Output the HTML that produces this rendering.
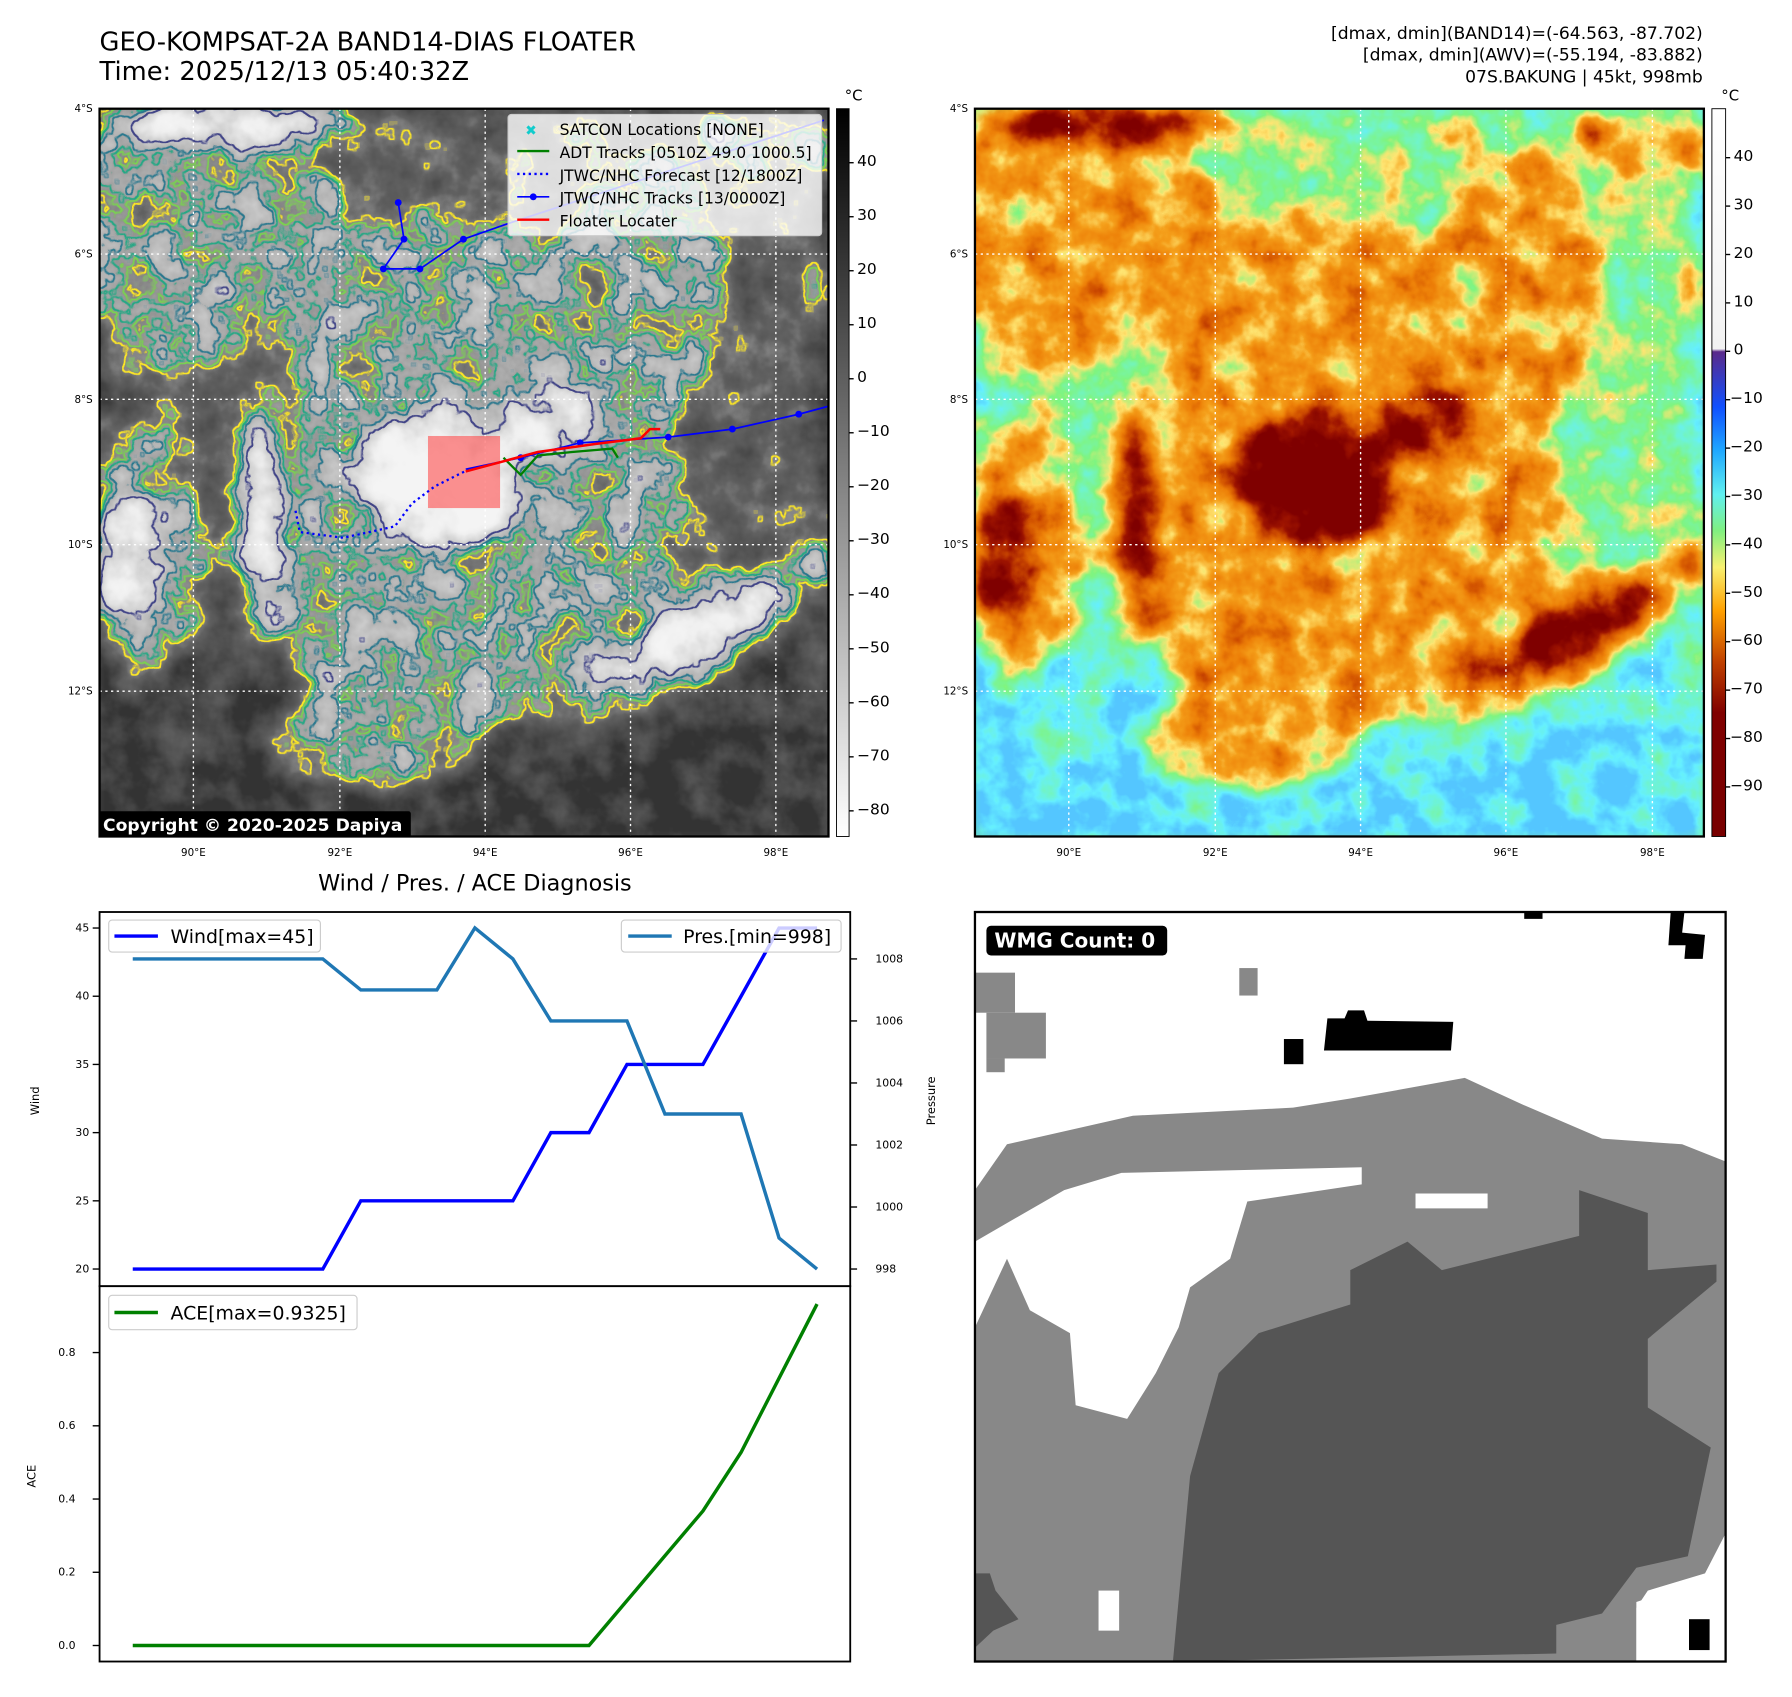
<!DOCTYPE html>
<html><head><meta charset="utf-8"><style>
html,body{margin:0;padding:0;background:#fff;}
svg{display:block;font-family:"DejaVu Sans","Liberation Sans",sans-serif;}
</style></head><body>
<svg id="fig" width="1792" height="1697" viewBox="0 0 1566 1483" xmlns="http://www.w3.org/2000/svg">
<defs>
<linearGradient id="bgSrc" x1="0" y1="0" x2="0" y2="1">
<stop offset="0" stop-color="rgb(80,80,80)"/><stop offset="0.6" stop-color="rgb(72,72,72)"/><stop offset="0.8" stop-color="rgb(30,30,30)"/><stop offset="1" stop-color="rgb(10,10,10)"/></linearGradient>
<g id="src">
<rect x="87" y="95" width="637" height="636" fill="url(#bgSrc)"/>
<g fill="rgb(132,132,132)">
<ellipse cx="400" cy="450" rx="200" ry="190"/>
<ellipse cx="170" cy="200" rx="135" ry="115"/>
<ellipse cx="350" cy="250" rx="210" ry="60"/>
<ellipse cx="560" cy="250" rx="75" ry="120"/>
<ellipse cx="590" cy="560" rx="125" ry="45" transform="rotate(-28 590 560)"/>
<ellipse cx="130" cy="480" rx="50" ry="110"/>
<ellipse cx="330" cy="640" rx="90" ry="50"/>
<ellipse cx="690" cy="130" rx="40" ry="30"/>
</g>
<g fill="rgb(215,215,215)">
<ellipse cx="385" cy="420" rx="75" ry="58"/>
<ellipse cx="110" cy="490" rx="30" ry="55"/>
<ellipse cx="230" cy="460" rx="16" ry="90"/>
<ellipse cx="605" cy="555" rx="85" ry="24" transform="rotate(-25 605 555)"/>
<ellipse cx="200" cy="105" rx="110" ry="18"/>
<ellipse cx="480" cy="370" rx="40" ry="30"/>
<ellipse cx="625" cy="118" rx="16" ry="16"/>
<ellipse cx="712" cy="490" rx="13" ry="16"/>
</g>
<ellipse cx="385" cy="418" rx="60" ry="50" fill="rgb(255,255,255)"/>
</g>
<filter id="fGray" filterUnits="userSpaceOnUse" x="87" y="95" width="637" height="636" color-interpolation-filters="sRGB">
<feGaussianBlur in="SourceGraphic" stdDeviation="9" result="b"/>
<feTurbulence type="fractalNoise" baseFrequency="0.03" numOctaves="4" seed="3"/>
<feColorMatrix type="matrix" values="1 0 0 0 0  1 0 0 0 0  1 0 0 0 0  0 0 0 0 1" result="n"/>
<feComposite in="b" in2="n" operator="arithmetic" k1="0" k2="1" k3="0.55" k4="-0.275" result="f"/>
<feComponentTransfer in="f" result="g">
<feFuncR type="table" tableValues="0.2 0.27 0.33 0.38 0.5 0.62 0.72 0.8 0.88 0.94 0.96"/>
<feFuncG type="table" tableValues="0.2 0.27 0.33 0.38 0.5 0.62 0.72 0.8 0.88 0.94 0.96"/>
<feFuncB type="table" tableValues="0.2 0.27 0.33 0.38 0.5 0.62 0.72 0.8 0.88 0.94 0.96"/>
</feComponentTransfer>
<feColorMatrix in="f" type="matrix" values="0 0 0 0 0 0 0 0 0 0 0 0 0 0 0 60 0 0 0 -24" result="s1"/>
<feMorphology in="s1" operator="dilate" radius="1.2" result="d1"/><feComposite in="d1" in2="s1" operator="out" result="e1"/>
<feFlood flood-color="#fde725"/><feComposite in2="e1" operator="in" result="c1"/>
<feColorMatrix in="f" type="matrix" values="0 0 0 0 0 0 0 0 0 0 0 0 0 0 0 60 0 0 0 -27" result="s2"/>
<feMorphology in="s2" operator="dilate" radius="1.1" result="d2"/><feComposite in="d2" in2="s2" operator="out" result="e2"/>
<feFlood flood-color="#7ad151"/><feComposite in2="e2" operator="in" result="c2"/>
<feColorMatrix in="f" type="matrix" values="0 0 0 0 0 0 0 0 0 0 0 0 0 0 0 60 0 0 0 -30" result="s3"/>
<feMorphology in="s3" operator="dilate" radius="1.1" result="d3"/><feComposite in="d3" in2="s3" operator="out" result="e3"/>
<feFlood flood-color="#22a884"/><feComposite in2="e3" operator="in" result="c3"/>
<feColorMatrix in="f" type="matrix" values="0 0 0 0 0 0 0 0 0 0 0 0 0 0 0 60 0 0 0 -34" result="s4"/>
<feMorphology in="s4" operator="dilate" radius="1.1" result="d4"/><feComposite in="d4" in2="s4" operator="out" result="e4"/>
<feFlood flood-color="#2a788e"/><feComposite in2="e4" operator="in" result="c4"/>
<feColorMatrix in="f" type="matrix" values="0 0 0 0 0 0 0 0 0 0 0 0 0 0 0 60 0 0 0 -42" result="s5"/>
<feMorphology in="s5" operator="dilate" radius="1.1" result="d5"/><feComposite in="d5" in2="s5" operator="out" result="e5"/>
<feFlood flood-color="#414487"/><feComposite in2="e5" operator="in" result="c5"/>
<feMerge><feMergeNode in="g"/><feMergeNode in="c1"/><feMergeNode in="c2"/><feMergeNode in="c3"/><feMergeNode in="c4"/><feMergeNode in="c5"/></feMerge>
</filter>
<filter id="fColor" filterUnits="userSpaceOnUse" x="87" y="95" width="637" height="636" color-interpolation-filters="sRGB">
<feGaussianBlur in="SourceGraphic" stdDeviation="9" result="b"/>
<feTurbulence type="fractalNoise" baseFrequency="0.03" numOctaves="4" seed="3"/>
<feColorMatrix type="matrix" values="1 0 0 0 0  1 0 0 0 0  1 0 0 0 0  0 0 0 0 1" result="n"/>
<feComposite in="b" in2="n" operator="arithmetic" k1="0" k2="1" k3="0.55" k4="-0.275" result="f"/>
<feComponentTransfer in="f">
<feFuncR type="table" tableValues="0.33 0.4 0.45 0.5 1 0.96 0.93 0.82 0.62 0.5 0.5"/>
<feFuncG type="table" tableValues="0.78 0.94 0.96 0.96 0.9 0.62 0.5 0.32 0.08 0 0"/>
<feFuncB type="table" tableValues="1 1 0.75 0.5 0.45 0.1 0.03 0 0 0 0"/>
</feComponentTransfer>
</filter>
<clipPath id="clipL"><rect x="87" y="95" width="637" height="636"/></clipPath>
<clipPath id="clipR"><rect x="852" y="95" width="637" height="636"/></clipPath>
</defs>

<!-- titles -->
<text x="87" y="44" font-size="22.5">GEO-KOMPSAT-2A BAND14-DIAS FLOATER</text>
<text x="87" y="70" font-size="22.5">Time: 2025/12/13 05:40:32Z</text>
<g font-size="15" text-anchor="end">
<text x="1488" y="34">[dmax, dmin](BAND14)=(-64.563, -87.702)</text>
<text x="1488" y="53">[dmax, dmin](AWV)=(-55.194, -83.882)</text>
<text x="1488" y="72">07S.BAKUNG | 45kt, 998mb</text>
</g>

<!-- LEFT MAP -->
<g clip-path="url(#clipL)">
<rect x="87" y="95" width="637" height="636" fill="#555"/>
<g filter="url(#fGray)"><use href="#src"/></g>
<g stroke="#fff" stroke-width="1.2" stroke-dasharray="2 3">
<line x1="169" y1="95" x2="169" y2="731"/><line x1="297" y1="95" x2="297" y2="731"/><line x1="424" y1="95" x2="424" y2="731"/><line x1="551" y1="95" x2="551" y2="731"/><line x1="678" y1="95" x2="678" y2="731"/>
<line x1="87" y1="222" x2="724" y2="222"/><line x1="87" y1="349" x2="724" y2="349"/><line x1="87" y1="476" x2="724" y2="476"/><line x1="87" y1="604" x2="724" y2="604"/>
</g>
<rect x="374" y="381" width="63" height="63" fill="rgba(255,60,60,0.55)"/>
<polyline points="410,410 380,425 360,440 345,460 300,470 262,465 258,445" fill="none" stroke="#0000ff" stroke-width="2" stroke-dasharray="2 3"/>
<polyline points="348,177 353,209 335,235 367,235 405,209 445,195 720,105" fill="none" stroke="#0000ff" stroke-width="1.5"/>
<g fill="#0000ff"><circle cx="348" cy="177" r="3"/><circle cx="353" cy="209" r="3"/><circle cx="335" cy="235" r="3"/><circle cx="367" cy="235" r="3"/><circle cx="405" cy="209" r="3"/></g>
<polyline points="440,400 455,415 470,398 500,395 535,392 540,400" fill="none" stroke="#008000" stroke-width="2"/>
<polyline points="407,410 455,400 487,392 507,387 584,382 640,375 698,362 724,355" fill="none" stroke="#0000ff" stroke-width="1.5"/>
<g fill="#0000ff"><circle cx="455" cy="400" r="3"/><circle cx="507" cy="387" r="3"/><circle cx="584" cy="382" r="3"/><circle cx="640" cy="375" r="3"/><circle cx="698" cy="362" r="3"/></g>
<polyline points="407,412 470,395 520,388 560,383 568,375 577,375" fill="none" stroke="#ff0000" stroke-width="2.2"/>
<g>
<rect x="444" y="100" width="274" height="106" rx="3" fill="rgba(255,255,255,0.8)" stroke="#ccc"/>
<text x="464" y="118" font-size="12" fill="#1cc" text-anchor="middle">✖</text>
<line x1="452" y1="132" x2="480" y2="132" stroke="#008000" stroke-width="2"/>
<line x1="452" y1="152" x2="480" y2="152" stroke="#0000ff" stroke-width="2" stroke-dasharray="2 3"/>
<line x1="452" y1="172" x2="480" y2="172" stroke="#0000ff" stroke-width="1.5"/><circle cx="466" cy="172" r="3" fill="#0000ff"/>
<line x1="452" y1="192" x2="480" y2="192" stroke="#ff0000" stroke-width="2"/>
<g font-size="13.6"><text x="489" y="118">SATCON Locations [NONE]</text><text x="489" y="138">ADT Tracks [0510Z 49.0 1000.5]</text><text x="489" y="158">JTWC/NHC Forecast [12/1800Z]</text><text x="489" y="178">JTWC/NHC Tracks [13/0000Z]</text><text x="489" y="198">Floater Locater</text></g>
</g>
<rect x="85" y="709" width="274" height="23" rx="2" fill="#000"/>
<text x="90" y="726" font-size="15" font-weight="bold" fill="#fff">Copyright © 2020-2025 Dapiya</text>
</g>
<rect x="87" y="95" width="637" height="636" fill="none" stroke="#000" stroke-width="2"/>

<!-- RIGHT MAP -->
<g clip-path="url(#clipR)">
<rect x="852" y="95" width="637" height="636" fill="#7ef58a"/>
<g transform="translate(765 0)"><g filter="url(#fColor)"><use href="#src"/></g></g>
<g stroke="#fff" stroke-width="1.2" stroke-dasharray="2 3">
<line x1="934" y1="95" x2="934" y2="731"/><line x1="1062" y1="95" x2="1062" y2="731"/><line x1="1189" y1="95" x2="1189" y2="731"/><line x1="1316" y1="95" x2="1316" y2="731"/><line x1="1444" y1="95" x2="1444" y2="731"/>
<line x1="852" y1="222" x2="1489" y2="222"/><line x1="852" y1="349" x2="1489" y2="349"/><line x1="852" y1="476" x2="1489" y2="476"/><line x1="852" y1="604" x2="1489" y2="604"/>
</g>
</g>
<rect x="852" y="95" width="637" height="636" fill="none" stroke="#000" stroke-width="2"/>

<!-- map tick labels -->
<g font-size="9">
<g text-anchor="end"><text x="81" y="98">4°S</text><text x="81" y="225">6°S</text><text x="81" y="352">8°S</text><text x="81" y="479">10°S</text><text x="81" y="607">12°S</text>
<text x="846" y="98">4°S</text><text x="846" y="225">6°S</text><text x="846" y="352">8°S</text><text x="846" y="479">10°S</text><text x="846" y="607">12°S</text></g>
<g text-anchor="middle"><text x="169" y="748">90°E</text><text x="297" y="748">92°E</text><text x="424" y="748">94°E</text><text x="551" y="748">96°E</text><text x="678" y="748">98°E</text>
<text x="934" y="748">90°E</text><text x="1062" y="748">92°E</text><text x="1189" y="748">94°E</text><text x="1316" y="748">96°E</text><text x="1444" y="748">98°E</text></g>
</g>

<!-- colorbars -->
<defs>
<linearGradient id="cbG" x1="0" y1="0" x2="0" y2="1"><stop offset="0" stop-color="#000"/><stop offset="1" stop-color="#fff"/></linearGradient>
<linearGradient id="cbC" x1="0" y1="0" x2="0" y2="1"><stop offset="0" stop-color="#fff"/><stop offset="0.33" stop-color="#f2f2f2"/><stop offset="0.334" stop-color="#5a2a8a"/><stop offset="0.41" stop-color="#1050ff"/><stop offset="0.47" stop-color="#20a8ff"/><stop offset="0.53" stop-color="#60f0f0"/><stop offset="0.58" stop-color="#80f080"/><stop offset="0.63" stop-color="#f8f070"/><stop offset="0.69" stop-color="#ffa000"/><stop offset="0.76" stop-color="#c04000"/><stop offset="0.83" stop-color="#800000"/><stop offset="1" stop-color="#780000"/></linearGradient>
</defs>
<rect x="731" y="95" width="11" height="636" fill="url(#cbG)" stroke="#000" stroke-width="0.8"/>
<rect x="1496" y="95" width="12" height="636" fill="url(#cbC)" stroke="#000" stroke-width="0.8"/>
<text x="746" y="88" font-size="13" text-anchor="middle">°C</text><text x="1512" y="88" font-size="13" text-anchor="middle">°C</text>
<g id="cbticks" font-size="13.5"></g>

<!-- diagnosis chart -->
<text x="415" y="778" font-size="19.5" text-anchor="middle">Wind / Pres. / ACE Diagnosis</text>
<rect x="87" y="797" width="656" height="327" fill="#fff" stroke="#000" stroke-width="1.6"/>
<rect x="87" y="1124" width="656" height="328" fill="#fff" stroke="#000" stroke-width="1.6"/>
<g id="chart"></g>
<text transform="translate(34 962) rotate(-90)" font-size="10" text-anchor="middle">Wind</text>
<text transform="translate(817 962) rotate(-90)" font-size="10" text-anchor="middle">Pressure</text>
<text transform="translate(31 1290) rotate(-90)" font-size="10" text-anchor="middle">ACE</text>
<g><rect x="95" y="804" width="185" height="28" rx="3" fill="rgba(255,255,255,0.8)" stroke="#ccc"/><line x1="100" y1="818" x2="138" y2="818" stroke="#0000ff" stroke-width="3"/><text x="149" y="824" font-size="16.5">Wind[max=45]</text></g>
<g><rect x="543" y="804" width="192" height="28" rx="3" fill="rgba(255,255,255,0.8)" stroke="#ccc"/><line x1="549" y1="818" x2="587" y2="818" stroke="#1f77b4" stroke-width="3"/><text x="597" y="824" font-size="16.5">Pres.[min=998]</text></g>
<g><rect x="95" y="1132" width="217" height="30" rx="3" fill="rgba(255,255,255,0.8)" stroke="#ccc"/><line x1="100" y1="1147" x2="138" y2="1147" stroke="#008000" stroke-width="3"/><text x="149" y="1153" font-size="16.5">ACE[max=0.9325]</text></g>

<!-- WMG panel -->
<g>
<rect x="852" y="797" width="656" height="655" fill="#fff"/>
<polygon fill="#888" points="852,1040 880,1000 990,975 1130,968 1180,960 1280,942 1330,965 1400,995 1470,1000 1508,1015 1508,1340 1490,1380 1430,1400 1430,1452 852,1452"/>
<polygon fill="#fff" points="852,1085 930,1040 980,1025 1190,1020 1190,1035 1090,1050 1075,1100 1040,1125 1030,1160 1010,1200 985,1240 940,1228 935,1165 900,1145 880,1100 852,1160"/>
<rect x="1237" y="1043" width="63" height="13" fill="#fff"/>
<rect x="960" y="1390" width="18" height="35" fill="#fff"/>
<polygon fill="#fff" points="1440,1390 1490,1375 1508,1340 1508,1452 1430,1452 1430,1405"/>
<polygon fill="#555" points="1025,1452 1040,1290 1065,1200 1100,1165 1180,1140 1180,1110 1230,1085 1260,1110 1380,1080 1380,1040 1440,1060 1440,1110 1500,1105 1500,1120 1440,1170 1440,1230 1495,1265 1475,1360 1430,1370 1400,1410 1360,1420 1360,1445"/>
<polygon fill="#555" points="852,1375 865,1375 870,1390 890,1415 868,1425 852,1440"/>
<rect x="852" y="850" width="35" height="35" fill="#888"/><rect x="862" y="885" width="52" height="40" fill="#888"/><rect x="862" y="925" width="16" height="12" fill="#888"/>
<rect x="1083" y="846" width="16" height="24" fill="#888"/>
<rect x="1122" y="908" width="17" height="22" fill="#000"/>
<polygon fill="#000" points="1160,890 1175,890 1178,883 1192,883 1195,892 1270,893 1268,918 1157,918"/>
<rect x="1332" y="797" width="16" height="6" fill="#000"/>
<polygon fill="#000" points="1460,797 1472,797 1470,815 1490,817 1488,838 1472,838 1473,826 1458,826"/>
<rect x="1476" y="1415" width="18" height="27" fill="#000"/>
<rect x="862" y="809" width="158" height="26" rx="4" fill="#000"/>
<text x="869" y="828" font-size="17.5" font-weight="bold" fill="#fff">WMG Count: 0</text>
<rect x="852" y="797" width="656" height="655" fill="none" stroke="#000" stroke-width="2"/>
</g>
</svg>
<script>
const windVals = [20,20,20,20,20,20,25,25,25,25,25,30,30,35,35,35,40,45,45];
const presVals = [1008,1008,1008,1008,1008,1008,1007,1007,1007,1009,1008,1006,1006,1006,1003,1003,1003,999,998];
const aceVals = [0,0,0,0,0,0,0,0,0,0,0,0,0,0.1225,0.245,0.3675,0.5275,0.73,0.9325];
const windTicks = [20,25,30,35,40,45];
const presTicks = [998,1000,1002,1004,1006,1008];
const aceTicks = [0.0,0.2,0.4,0.6,0.8];
const grayCbTicks = [40,30,20,10,0,-10,-20,-30,-40,-50,-60,-70,-80];
const awvCbTicks = [40,30,20,10,0,-10,-20,-30,-40,-50,-60,-70,-80,-90];

const NS='http://www.w3.org/2000/svg';
const chart=document.getElementById('chart');
const xS=i=>116+(714-116)*i/(windVals.length-1);
const yW=v=>1109-(v-20)*(1109-811)/25;
const yP=v=>1109-(v-998)*(1109-838)/10;
const yA=v=>1438-v*(1438-1182)/0.8;
function mk(tag,attrs,parent){const e=document.createElementNS(NS,tag);for(const k in attrs)e.setAttribute(k,attrs[k]);(parent||chart).appendChild(e);return e;}
function tick(x1,x2,y,label,anchor,tx,parent){mk('line',{x1:x1,x2:x2,y1:y,y2:y,stroke:'#000','stroke-width':1.2},parent);const t=mk('text',{x:tx,y:y+3,'font-size':parent?13.5:9.5,'text-anchor':anchor},parent);t.textContent=label;return t;}
windTicks.forEach(v=>{const t=tick(81,87,yW(v),String(v),'end',78);});
presTicks.forEach(v=>{const t=tick(743,749,yP(v),String(v),'start',765);});
aceTicks.forEach(v=>{const t=tick(81,87,yA(v),v.toFixed(1),'end',66);});
function line(vals,yf,color,name){const p=mk('polyline',{points:vals.map((v,i)=>xS(i).toFixed(1)+','+yf(v).toFixed(1)).join(' '),fill:'none',stroke:color,'stroke-width':3,'stroke-linejoin':'miter'});}
line(windVals,yW,'#0000ff','wind-line');
line(presVals,yP,'#1f77b4','pressure-line');
line(aceVals,yA,'#008000','ace-line');
const cb=document.getElementById('cbticks');
grayCbTicks.forEach(v=>{const y=331-v*4.72;const t=tick(742,746,y,v<0?'−'+(-v):String(v),'start',749,cb);});
awvCbTicks.forEach(v=>{const y=307-v*4.23;const t=tick(1508,1512,y,v<0?'−'+(-v):String(v),'start',v<0?1512:1515,cb);});
</script>
</body></html>
